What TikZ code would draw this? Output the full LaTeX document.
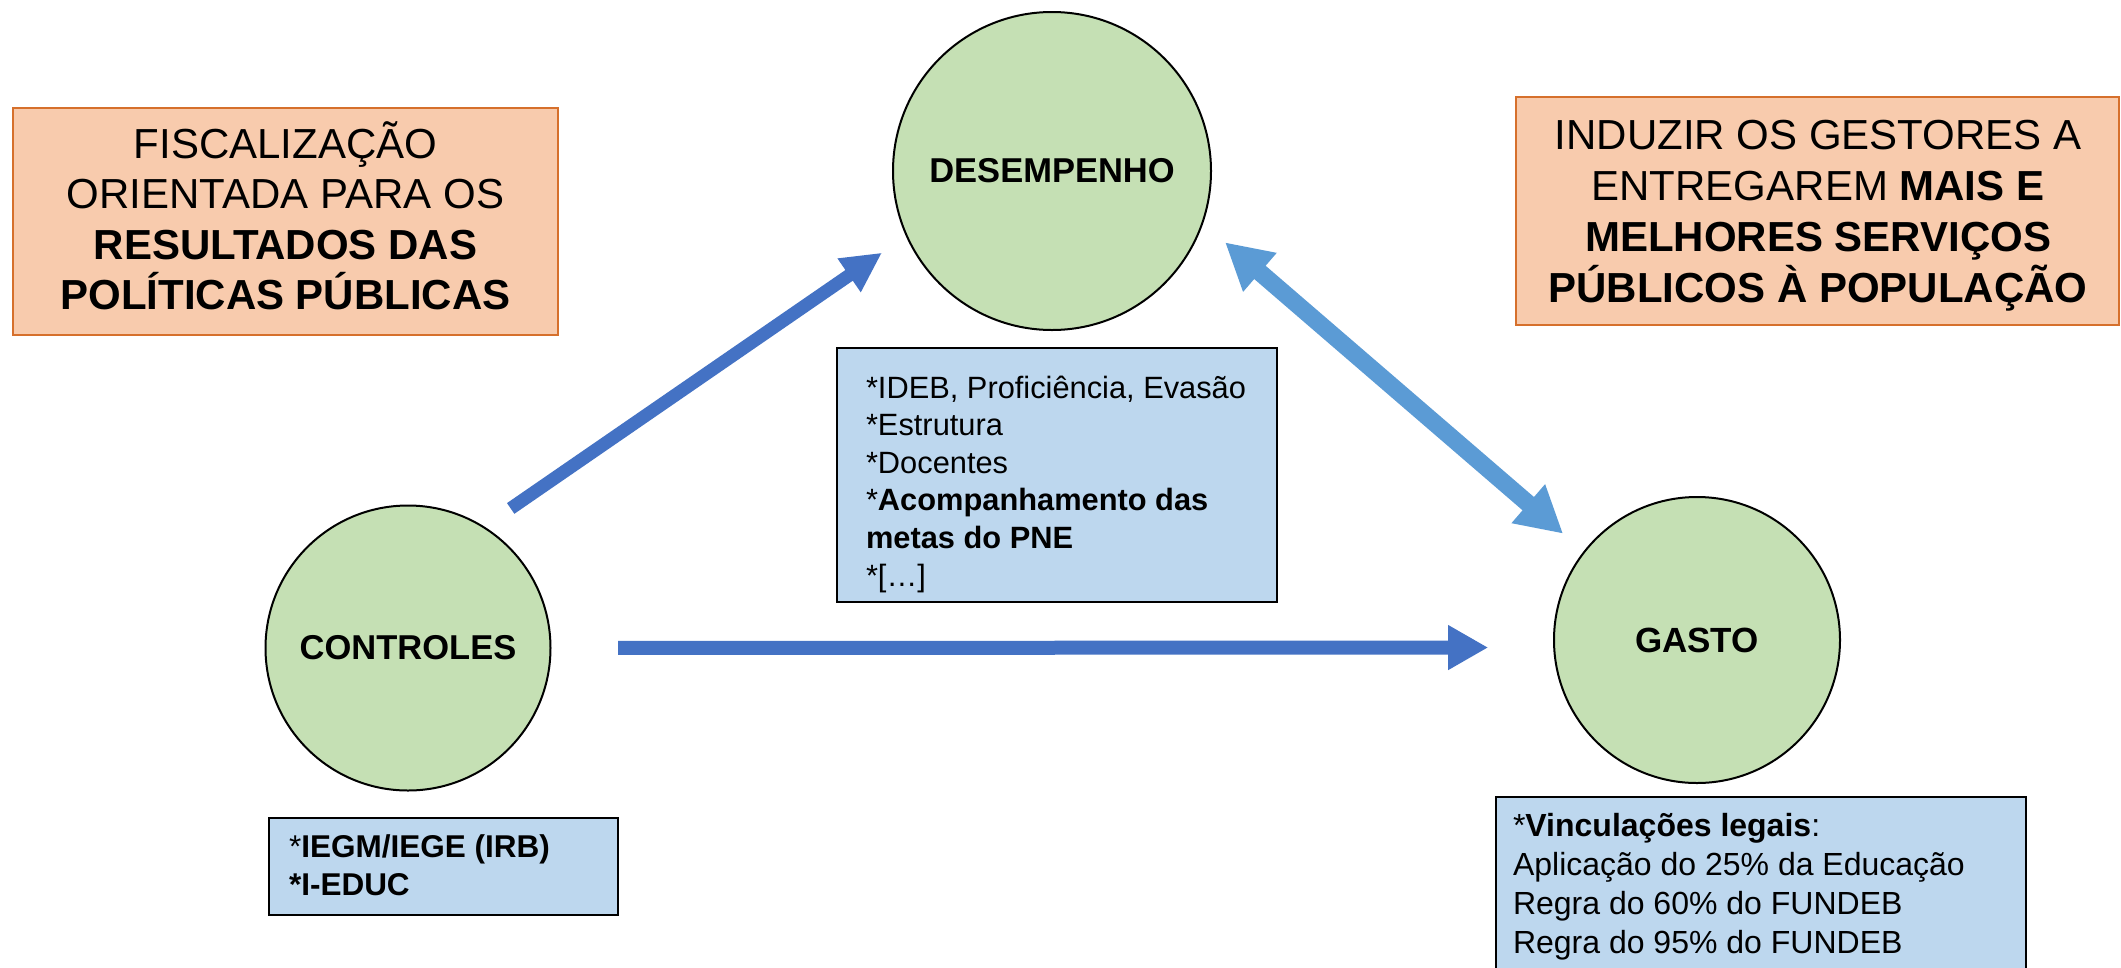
\documentclass[tikz,border=0pt]{standalone}
\usepackage{fontspec}
\setmainfont{Liberation Sans}
\usetikzlibrary{arrows.meta}
\definecolor{cgreen}{HTML}{C5E0B4}
\definecolor{cblue}{HTML}{BDD7EE}
\definecolor{corfill}{HTML}{F8CBAD}
\definecolor{corange}{RGB}{214,112,44}
\definecolor{cdblue}{HTML}{4472C4}
\definecolor{clblue}{HTML}{5B9BD5}
\tikzset{
  obox/.style={draw=corange, fill=corfill, line width=2.5pt, inner sep=0pt, outer sep=0pt},
  bbox/.style={draw=black, fill=cblue, line width=2.5pt, inner sep=0pt, outer sep=0pt},
  circ/.style={circle, draw=black, fill=cgreen, line width=2pt, inner sep=0pt, outer sep=0pt,
    font=\fontsize{34.5}{40}\selectfont\bfseries},
  txt/.style={inner sep=0pt, outer sep=0pt},
  darr/.style={draw=cdblue, line width=14pt, -{Triangle[width=42pt,length=40pt]}},
  larr/.style={draw=clblue, line width=17.5pt,
    {Triangle[width=48pt,length=46pt]}-{Triangle[width=48pt,length=46pt]}},
}
\begin{document}
\begin{tikzpicture}[x=1pt,y=-1pt]
\useasboundingbox (0,0) rectangle (2121,967);
\fill[white] (0,0) rectangle (2121,967);

% orange boxes
\node[obox, anchor=north west, minimum width=545pt, minimum height=227pt] (lbox) at (13,108) {};
\node[txt, anchor=base] (ltxt) at (285.5,158) {\parbox[t]{540pt}{\centering\fontsize{42}{50.5}\selectfont
FISCALIZAÇÃO\\ORIENTADA PARA OS\\\textbf{RESULTADOS DAS}\\\textbf{POLÍTICAS PÚBLICAS}}};

\node[obox, anchor=north west, minimum width=603pt, minimum height=228pt] (rbox) at (1516,97) {};
\node[txt, anchor=base] (rtxt) at (1818,149) {\parbox[t]{600pt}{\centering\fontsize{42}{51}\selectfont
INDUZIR OS GESTORES A\\ENTREGAREM \textbf{MAIS E}\\\textbf{MELHORES SERVIÇOS}\\\textbf{PÚBLICOS À POPULAÇÃO}}};

% circles
\node[circ, minimum size=318pt] (des) at (1052,171) {DESEMPENHO};
\node[circ, minimum size=285pt] (ctrl) at (408,648) {CONTROLES};
\node[circ, minimum size=286pt, font=\fontsize{35}{40}\selectfont\bfseries] (gas) at (1697,640) {GASTO};

% blue boxes
\node[bbox, anchor=north west, minimum width=440pt, minimum height=254pt] (desbox) at (837,348) {};
\node[txt, anchor=base west] (destxt) at (866,398) {\parbox[t]{420pt}{\fontsize{30.8}{37.6}\selectfont
*IDEB, Proficiência, Evasão\\{}*Estrutura\\{}*Docentes\\{}*\textbf{Acompanhamento das}\\{}\textbf{metas do PNE}\\{}*[…]}};

\node[bbox, anchor=north west, minimum width=349pt, minimum height=97pt] (ctrlbox) at (269,818) {};
\node[txt, anchor=base west] (ctrltxt) at (289,857) {\parbox[t]{330pt}{\fontsize{31.5}{38}\selectfont
*\textbf{IEGM/IEGE (IRB)}\\{}\textbf{*I-EDUC}}};

\node[bbox, anchor=north west, minimum width=530pt, minimum height=200pt] (gasbox) at (1496,797) {};
\node[txt, anchor=base west] (gastxt) at (1513,836) {\parbox[t]{510pt}{\fontsize{32}{39}\selectfont
*\textbf{Vinculações legais}:\\{}Aplicação do 25\% da Educação\\{}Regra do 60\% do FUNDEB\\{}Regra do 95\% do FUNDEB}};

% arrows
\draw[darr, line width=13pt, -{Triangle[width=38pt,length=40pt]}, shorten <=33pt, shorten >=30pt] (ctrl.58.4) -- (des.204.1);
\draw[darr, shorten <=67.5pt, shorten >=66pt] (ctrl.east) -- (gas.183.2);
\draw[larr, shorten <=30pt, shorten >=28pt] (des.-19.2) -- (gas.142.7);
\end{tikzpicture}
\end{document}
